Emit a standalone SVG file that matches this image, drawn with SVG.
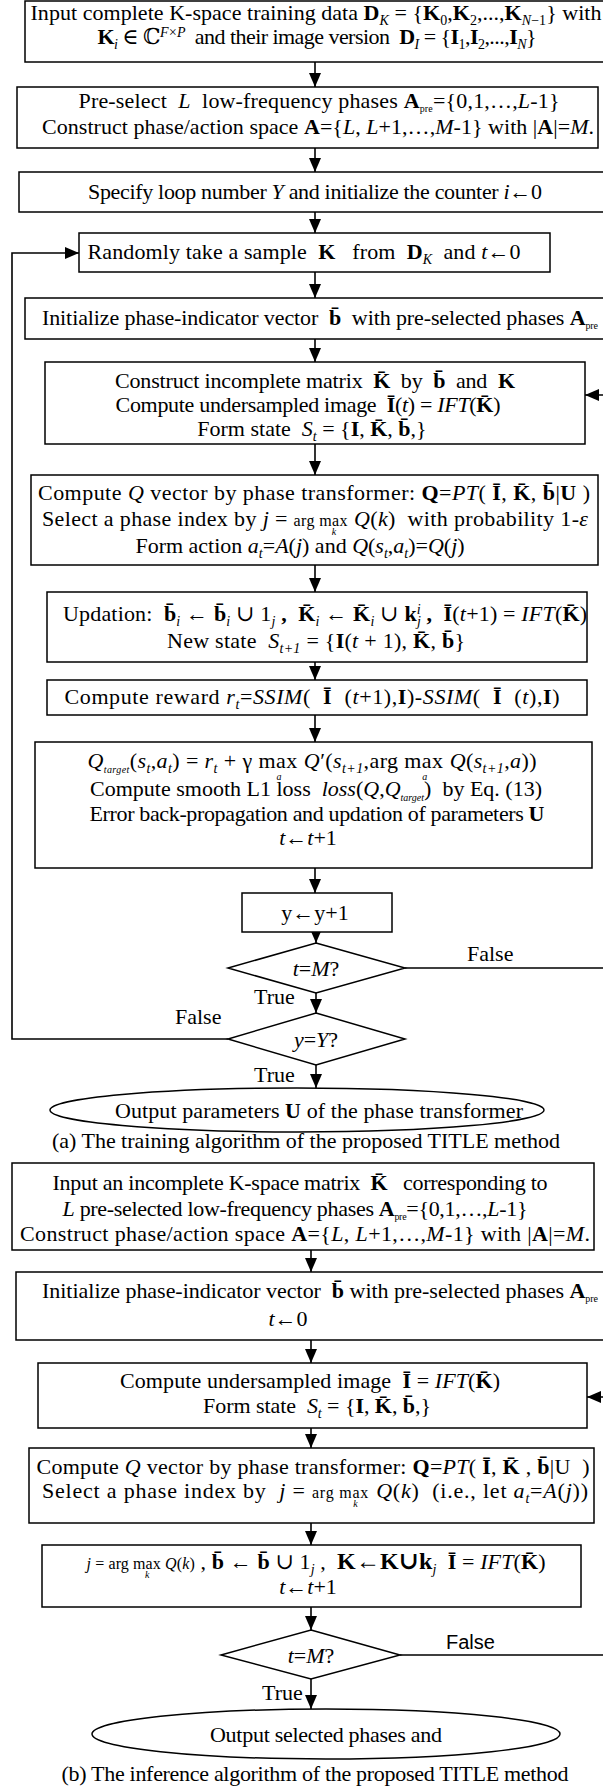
<svg xmlns="http://www.w3.org/2000/svg" width="603" height="1791" viewBox="0 0 603 1791">
<defs>
<style>
.t{font-family:"Liberation Serif","Times New Roman","DejaVu Serif",serif;font-size:22px;fill:#000}
.i{font-style:italic}
.b{font-weight:bold}
.s{font-size:14px}
.xs{font-size:10px}
.sm{font-size:16px}
.box{fill:#fff;stroke:#000;stroke-width:1.5}
.ln{fill:none;stroke:#000;stroke-width:1.6}
.sans{font-family:"Liberation Sans Narrow","Liberation Sans",sans-serif;font-size:20px}
</style>
<marker id="ah" markerUnits="userSpaceOnUse" markerWidth="14" markerHeight="14" viewBox="0 0 14 12" refX="14" refY="6" orient="auto">
<path d="M0,0 L14,6 L0,12 z" fill="#000"/>
</marker>
</defs>
<rect width="603" height="1791" fill="#fff"/>

<g id="connectors">
<line class="ln" x1="315" y1="62" x2="315" y2="87" marker-end="url(#ah)"/>
<line class="ln" x1="315" y1="148" x2="315" y2="172" marker-end="url(#ah)"/>
<line class="ln" x1="315" y1="212" x2="315" y2="233" marker-end="url(#ah)"/>
<line class="ln" x1="315" y1="272" x2="315" y2="298" marker-end="url(#ah)"/>
<line class="ln" x1="315" y1="339" x2="315" y2="362" marker-end="url(#ah)"/>
<line class="ln" x1="315" y1="444" x2="315" y2="475" marker-end="url(#ah)"/>
<line class="ln" x1="315" y1="565" x2="315" y2="592" marker-end="url(#ah)"/>
<line class="ln" x1="315" y1="662" x2="315" y2="680" marker-end="url(#ah)"/>
<line class="ln" x1="315" y1="715" x2="315" y2="742" marker-end="url(#ah)"/>
<line class="ln" x1="315" y1="868" x2="315" y2="893" marker-end="url(#ah)"/>
<line class="ln" x1="316" y1="932" x2="316" y2="943" marker-end="url(#ah)"/>
<line class="ln" x1="316" y1="993" x2="316" y2="1013" marker-end="url(#ah)"/>
<line class="ln" x1="316" y1="1065" x2="316" y2="1088" marker-end="url(#ah)"/>
<polyline class="ln" points="405,968 604,968 604,395 585,395" marker-end="url(#ah)"/>
<polyline class="ln" points="228,1039 12,1039 12,253 79,253" marker-end="url(#ah)"/>
<line class="ln" x1="311" y1="1250" x2="311" y2="1272" marker-end="url(#ah)"/>
<line class="ln" x1="311" y1="1340" x2="311" y2="1363" marker-end="url(#ah)"/>
<line class="ln" x1="311" y1="1428" x2="311" y2="1448" marker-end="url(#ah)"/>
<line class="ln" x1="311" y1="1523" x2="311" y2="1545" marker-end="url(#ah)"/>
<line class="ln" x1="311" y1="1607" x2="311" y2="1630" marker-end="url(#ah)"/>
<line class="ln" x1="311" y1="1679" x2="311" y2="1709" marker-end="url(#ah)"/>
<polyline class="ln" points="400,1655 604,1655 604,1397 587,1397" marker-end="url(#ah)"/>
</g>

<g id="n1">
<rect class="box" x="25" y="1" width="585" height="61"/>
<text class="t" x="316" y="20" text-anchor="middle" textLength="571" xml:space="preserve">Input complete K-space training data <tspan class="b">D</tspan><tspan class="s i" baseline-shift="-5">K</tspan> = {<tspan class="b">K</tspan><tspan class="s" baseline-shift="-5">0</tspan>,<tspan class="b">K</tspan><tspan class="s" baseline-shift="-5">2</tspan>,...,<tspan class="b">K</tspan><tspan class="s" baseline-shift="-5"><tspan class="i">N</tspan>−1</tspan>} with</text>
<text class="t" x="317" y="44" text-anchor="middle" textLength="439" xml:space="preserve"><tspan class="b">K</tspan><tspan class="s i" baseline-shift="-5">i</tspan> ∈ ℂ<tspan class="s i" baseline-shift="7">F×P</tspan>  and their image version  <tspan class="b">D</tspan><tspan class="s i" baseline-shift="-5">I</tspan> = {<tspan class="b">I</tspan><tspan class="s" baseline-shift="-5">1</tspan>,<tspan class="b">I</tspan><tspan class="s" baseline-shift="-5">2</tspan>,...,<tspan class="b">I</tspan><tspan class="s i" baseline-shift="-5">N</tspan>}</text>
</g>

<g id="n2">
<rect class="box" x="17" y="87" width="581" height="61"/>
<text class="t" x="319" y="108" text-anchor="middle" textLength="481" xml:space="preserve">Pre-select  <tspan class="i">L</tspan>  low-frequency phases <tspan class="b">A</tspan><tspan class="xs" baseline-shift="-4">pre</tspan>={0,1,…,<tspan class="i">L</tspan>-1}</text>
<text class="t" x="318" y="134" text-anchor="middle" textLength="552" xml:space="preserve">Construct phase/action space <tspan class="b">A</tspan>={<tspan class="i">L</tspan>, <tspan class="i">L</tspan>+1,…,<tspan class="i">M</tspan>-1} with |<tspan class="b">A</tspan>|=<tspan class="i">M</tspan>.</text>
</g>

<g id="n3">
<rect class="box" x="19" y="172" width="592" height="40"/>
<text class="t" x="315" y="199" text-anchor="middle" textLength="454" xml:space="preserve">Specify loop number <tspan class="i">Y</tspan> and initialize the counter <tspan class="i">i</tspan>←0</text>
</g>

<g id="n4">
<rect class="box" x="79" y="233" width="471" height="39"/>
<text class="t" x="304" y="259" text-anchor="middle" textLength="433" xml:space="preserve">Randomly take a sample  <tspan class="b">K</tspan>   from  <tspan class="b">D</tspan><tspan class="s i" baseline-shift="-5">K</tspan>  and <tspan class="i">t</tspan>←0</text>
</g>

<g id="n5">
<rect class="box" x="25" y="298" width="585" height="41"/>
<text class="t" x="320" y="325" text-anchor="middle" textLength="556" xml:space="preserve">Initialize phase-indicator vector  <tspan class="b">b̄</tspan>  with pre-selected phases <tspan class="b">A</tspan><tspan class="xs" baseline-shift="-4">pre</tspan></text>
</g>

<g id="n6">
<rect class="box" x="45" y="362" width="540" height="82"/>
<text class="t" x="315" y="388" text-anchor="middle" textLength="400" xml:space="preserve">Construct incomplete matrix  <tspan class="b">K̄</tspan>  by  <tspan class="b">b̄</tspan>  and  <tspan class="b">K</tspan></text>
<text class="t" x="308" y="412" text-anchor="middle" textLength="385" xml:space="preserve">Compute undersampled image  <tspan class="b">Ī</tspan>(<tspan class="i">t</tspan>) = <tspan class="i">IFT</tspan>(<tspan class="b">K̄</tspan>)</text>
<text class="t" x="312" y="436" text-anchor="middle" xml:space="preserve">Form state  <tspan class="i">S</tspan><tspan class="s i" baseline-shift="-5">t</tspan> = {<tspan class="b">I</tspan>, <tspan class="b">K̄</tspan>, <tspan class="b">b̄</tspan>,}</text>
</g>

<g id="n7">
<rect class="box" x="31" y="475" width="567" height="90"/>
<text class="t" x="314" y="500" text-anchor="middle" textLength="552" xml:space="preserve">Compute <tspan class="i">Q</tspan> vector by phase transformer: <tspan class="b">Q</tspan>=<tspan class="i">PT</tspan>( <tspan class="b">Ī</tspan>, <tspan class="b">K̄</tspan>, <tspan class="b">b̄</tspan>|<tspan class="b">U</tspan> )</text>
<text class="t" x="315" y="526" text-anchor="middle" textLength="546" xml:space="preserve">Select a phase index by <tspan class="i">j</tspan> = <tspan class="sm">arg max</tspan><tspan class="xs i" dx="-16" dy="9">k</tspan><tspan dx="11.5" dy="-9"> </tspan><tspan class="i">Q</tspan>(<tspan class="i">k</tspan>)  with probability 1-<tspan class="i">ε</tspan></text>
<text class="t" x="300" y="553" text-anchor="middle" xml:space="preserve">Form action <tspan class="i">a</tspan><tspan class="s i" baseline-shift="-5">t</tspan>=<tspan class="i">A</tspan>(<tspan class="i">j</tspan>) and <tspan class="i">Q</tspan>(<tspan class="i">s</tspan><tspan class="s i" baseline-shift="-5">t</tspan>,<tspan class="i">a</tspan><tspan class="s i" baseline-shift="-5">t</tspan>)=<tspan class="i">Q</tspan>(<tspan class="i">j</tspan>)</text>
</g>

<g id="n8">
<rect class="box" x="47" y="592" width="540" height="70"/>
<text class="t" x="325" y="621" text-anchor="middle" textLength="524" xml:space="preserve">Updation:  <tspan class="b">b̄</tspan><tspan class="s i" baseline-shift="-5">i</tspan> ← <tspan class="b">b̄</tspan><tspan class="s i" baseline-shift="-5">i</tspan> ∪ 1<tspan class="s i" baseline-shift="-5">j</tspan> <tspan class="b">,</tspan>  <tspan class="b">K̄</tspan><tspan class="s i" baseline-shift="-5">i</tspan> ← <tspan class="b">K̄</tspan><tspan class="s i" baseline-shift="-5">i</tspan> ∪ <tspan class="b">k</tspan><tspan class="s i" baseline-shift="7">i</tspan><tspan class="s i" dx="-4" baseline-shift="-5">j</tspan> <tspan class="b">,</tspan>  <tspan class="b">Ī</tspan>(<tspan class="i">t</tspan>+1) = <tspan class="i">IFT</tspan>(<tspan class="b">K̄</tspan>)</text>
<text class="t" x="316" y="648" text-anchor="middle" textLength="298" xml:space="preserve">New state  <tspan class="i">S</tspan><tspan class="s i" baseline-shift="-5">t+1</tspan> = {<tspan class="b">I</tspan>(<tspan class="i">t</tspan> + 1), <tspan class="b">K̄</tspan>, <tspan class="b">b̄</tspan>}</text>
</g>

<g id="n9">
<rect class="box" x="47" y="680" width="540" height="35"/>
<text class="t" x="312" y="704" text-anchor="middle" textLength="495" xml:space="preserve">Compute reward <tspan class="i">r</tspan><tspan class="s i" baseline-shift="-5">t</tspan>=<tspan class="i">SSIM</tspan>(  <tspan class="b">Ī</tspan>  (<tspan class="i">t</tspan>+1),<tspan class="b">I</tspan>)-<tspan class="i">SSIM</tspan>(  <tspan class="b">Ī</tspan>  (<tspan class="i">t</tspan>),<tspan class="b">I</tspan>)</text>
</g>

<g id="n10">
<rect class="box" x="35" y="742" width="557" height="126"/>
<text class="t" x="312" y="768" text-anchor="middle" textLength="449" xml:space="preserve"><tspan class="i">Q</tspan><tspan class="xs i" baseline-shift="-5">target</tspan>(<tspan class="i">s</tspan><tspan class="s i" baseline-shift="-5">t</tspan>,<tspan class="i">a</tspan><tspan class="s i" baseline-shift="-5">t</tspan>) = <tspan class="i">r</tspan><tspan class="s i" baseline-shift="-5">t</tspan> + γ max<tspan class="xs i" dx="-21" dy="12">a</tspan><tspan dx="16" dy="-12"> </tspan><tspan class="i">Q</tspan>′(<tspan class="i">s</tspan><tspan class="s i" baseline-shift="-5">t+1</tspan>,arg max<tspan class="xs i" dx="-21" dy="12">a</tspan><tspan dx="16" dy="-12"> </tspan><tspan class="i">Q</tspan>(<tspan class="i">s</tspan><tspan class="s i" baseline-shift="-5">t+1</tspan>,<tspan class="i">a</tspan>))</text>
<text class="t" x="316" y="796" text-anchor="middle" textLength="452" xml:space="preserve">Compute smooth L1 loss  <tspan class="i">loss</tspan>(<tspan class="i">Q</tspan>,<tspan class="i">Q</tspan><tspan class="xs i" baseline-shift="-5">target</tspan>)  by Eq. (13)</text>
<text class="t" x="317" y="821" text-anchor="middle" textLength="455" xml:space="preserve">Error back-propagation and updation of parameters <tspan class="b">U</tspan></text>
<text class="t" x="308" y="845" text-anchor="middle" xml:space="preserve"><tspan class="i">t</tspan>←<tspan class="i">t</tspan>+1</text>
</g>

<g id="n11">
<rect class="box" x="242" y="893" width="150" height="39"/>
<text class="t" x="315" y="920" text-anchor="middle">y←y+1</text>
</g>

<g id="d1">
<polygon class="box" points="316,943 405,968 316,993 228,968"/>
<text class="t" x="316" y="976" text-anchor="middle"><tspan class="i">t</tspan>=<tspan class="i">M</tspan>?</text>
</g>
<text class="t" x="467" y="961">False</text>
<text class="t" x="254" y="1004">True</text>

<g id="d2">
<polygon class="box" points="316,1013 405,1039 316,1065 228,1039"/>
<text class="t" x="316" y="1047" text-anchor="middle"><tspan class="i">y</tspan>=<tspan class="i">Y</tspan>?</text>
</g>
<text class="t" x="175" y="1024">False</text>
<text class="t" x="254" y="1082">True</text>

<g id="e1">
<ellipse class="box" cx="297" cy="1110" rx="247" ry="22"/>
<text class="t" x="319" y="1118" text-anchor="middle" textLength="408">Output parameters <tspan class="b">U</tspan> of the phase transformer</text>
</g>
<text class="t" x="306" y="1148" text-anchor="middle" textLength="508">(a) The training algorithm of the proposed TITLE method</text>

<g id="n12">
<rect class="box" x="12" y="1163" width="582" height="87"/>
<text class="t" x="300" y="1190" text-anchor="middle" textLength="495" xml:space="preserve">Input an incomplete K-space matrix  <tspan class="b">K̄</tspan>   corresponding to</text>
<text class="t" x="295" y="1216" text-anchor="middle" textLength="465" xml:space="preserve"><tspan class="i">L</tspan> pre-selected low-frequency phases <tspan class="b">A</tspan><tspan class="xs" baseline-shift="-4">pre</tspan>={0,1,…,<tspan class="i">L</tspan>-1}</text>
<text class="t" x="305" y="1241" text-anchor="middle" textLength="570" xml:space="preserve">Construct phase/action space <tspan class="b">A</tspan>={<tspan class="i">L</tspan>, <tspan class="i">L</tspan>+1,…,<tspan class="i">M</tspan>-1} with |<tspan class="b">A</tspan>|=<tspan class="i">M</tspan>.</text>
</g>

<g id="n13">
<rect class="box" x="16" y="1272" width="595" height="68"/>
<text class="t" x="320" y="1298" text-anchor="middle" textLength="556" xml:space="preserve">Initialize phase-indicator vector  <tspan class="b">b̄</tspan> with pre-selected phases <tspan class="b">A</tspan><tspan class="xs" baseline-shift="-4">pre</tspan></text>
<text class="t" x="288" y="1326" text-anchor="middle"><tspan class="i">t</tspan>←0</text>
</g>

<g id="n14">
<rect class="box" x="38" y="1363" width="549" height="65"/>
<text class="t" x="310" y="1388" text-anchor="middle" textLength="380" xml:space="preserve">Compute undersampled image  <tspan class="b">Ī</tspan> = <tspan class="i">IFT</tspan>(<tspan class="b">K̄</tspan>)</text>
<text class="t" x="317" y="1413" text-anchor="middle" textLength="228" xml:space="preserve">Form state  <tspan class="i">S</tspan><tspan class="s i" baseline-shift="-5">t</tspan> = {<tspan class="b">I</tspan>, <tspan class="b">K̄</tspan>, <tspan class="b">b̄</tspan>,}</text>
</g>

<g id="n15">
<rect class="box" x="29" y="1448" width="565" height="75"/>
<text class="t" x="313" y="1474" text-anchor="middle" textLength="553" xml:space="preserve">Compute <tspan class="i">Q</tspan> vector by phase transformer: <tspan class="b">Q</tspan>=<tspan class="i">PT</tspan>( <tspan class="b">Ī</tspan>, <tspan class="b">K̄</tspan> , <tspan class="b">b̄</tspan>|U  )</text>
<text class="t" x="315" y="1498" text-anchor="middle" textLength="546" xml:space="preserve">Select a phase index by  <tspan class="i">j</tspan> = <tspan class="sm">arg max</tspan><tspan class="xs i" dx="-16" dy="9">k</tspan><tspan dx="11.5" dy="-9"> </tspan><tspan class="i">Q</tspan>(<tspan class="i">k</tspan>)  (i.e., let <tspan class="i">a</tspan><tspan class="s i" baseline-shift="-5">t</tspan>=<tspan class="i">A</tspan>(<tspan class="i">j</tspan>))</text>
</g>

<g id="n16">
<rect class="box" x="42" y="1545" width="539" height="62"/>
<text class="t" x="316" y="1569" text-anchor="middle" textLength="459" xml:space="preserve"><tspan class="sm"><tspan class="i">j</tspan> = arg max</tspan><tspan class="xs i" dx="-16" dy="9">k</tspan><tspan class="sm" dx="11.5" dy="-9"> <tspan class="i">Q</tspan>(<tspan class="i">k</tspan>)</tspan> , <tspan class="b">b̄</tspan> ← <tspan class="b">b̄</tspan> ∪ 1<tspan class="s i" baseline-shift="-5">j</tspan> ,  <tspan class="b" font-size="24">K←K∪k</tspan><tspan class="s i" baseline-shift="-5">j</tspan>  <tspan class="b">Ī</tspan> = <tspan class="i">IFT</tspan>(<tspan class="b">K̄</tspan>)</text>
<text class="t" x="308" y="1594" text-anchor="middle"><tspan class="i">t</tspan>←<tspan class="i">t</tspan>+1</text>
</g>

<g id="d3">
<polygon class="box" points="311,1630 400,1655 311,1679 221,1655"/>
<text class="t" x="311" y="1663" text-anchor="middle"><tspan class="i">t</tspan>=<tspan class="i">M</tspan>?</text>
</g>
<text class="sans" x="446" y="1649">False</text>
<text class="t" x="262" y="1700">True</text>

<g id="e2">
<ellipse class="box" cx="326" cy="1734" rx="234" ry="25"/>
<text class="t" x="326" y="1742" text-anchor="middle" textLength="232">Output selected phases and</text>
</g>
<text class="t" x="315" y="1781" text-anchor="middle" textLength="507">(b) The inference algorithm of the proposed TITLE method</text>
</svg>
